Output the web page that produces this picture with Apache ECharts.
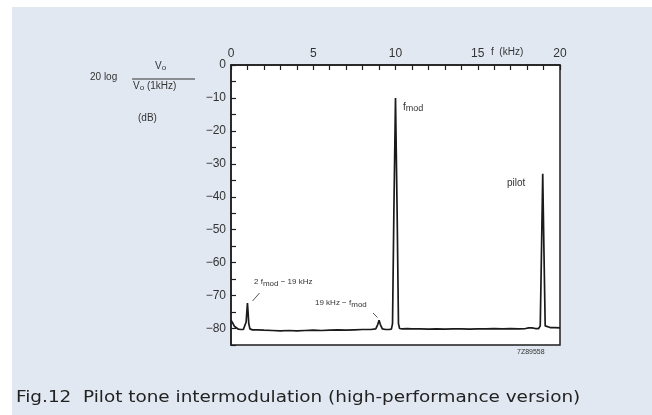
<!DOCTYPE html>
<html>
<head>
<meta charset="utf-8">
<script src="https://cdn.jsdelivr.net/npm/echarts@6/dist/echarts.min.js"></script>
<style>
html,body{margin:0;padding:0;background:#fff;}
#panel{position:absolute;left:12px;top:7px;right:0;bottom:0;background:#e1e8f2;}
#chart{position:absolute;left:0;top:0;width:652px;height:415px;}
</style>
</head>
<body>
<div id="panel"></div>
<div id="chart"></div>
<script>
// Frequency (kHz) and level (dB relative to 1 kHz output)
const freqKHz = [0, 0.1, 0.2, 0.3, 0.45, 0.6, 0.75, 0.85, 0.92, 0.97, 1.0, 1.03, 1.08, 1.15, 1.3, 1.6, 2.0, 2.5, 3.0, 3.5, 4.0, 4.5, 5.0, 5.5, 6.0, 6.5, 7.0, 7.5, 8.0, 8.5, 8.8, 8.92, 9.0, 9.08, 9.2, 9.4, 9.6, 9.75, 9.82, 9.9, 10.0, 10.1, 10.18, 10.25, 10.4, 10.7, 11.0, 11.5, 12.0, 12.5, 13.0, 13.5, 14.0, 14.5, 15.0, 15.5, 16.0, 16.5, 17.0, 17.5, 17.9, 18.1, 18.2, 18.3, 18.5, 18.7, 18.8, 18.88, 18.95, 19.02, 19.1, 19.2, 19.4, 19.7, 20];
const levelDB = [-77.5, -78.3, -79.3, -79.9, -80.2, -80.3, -80.3, -80.0, -78.0, -74.5, -72.3, -74.5, -78.5, -80.1, -80.4, -80.4, -80.5, -80.6, -80.7, -80.6, -80.7, -80.6, -80.5, -80.6, -80.5, -80.4, -80.5, -80.4, -80.3, -80.3, -80.1, -78.8, -77.5, -78.8, -80.1, -80.3, -80.3, -80.2, -78.5, -45, -10, -45, -78.5, -80.0, -80.1, -80.0, -80.1, -80.1, -80.2, -80.1, -80.2, -80.1, -80.1, -80.2, -80.1, -80.1, -80.0, -80.1, -80.0, -80.1, -80.0, -79.8, -79.5, -79.8, -80.0, -80.0, -79.2, -55, -33, -55, -79.2, -79.8, -79.7, -79.7, -79.8];
const xTickLabels = [0, 5, 10, 15, 20];
const yTickLabels = [0, -10, -20, -30, -40, -50, -60, -70, -80];

const seriesData = freqKHz.map((f, i) => [f, levelDB[i]]);
const txt = '#333';
const chart = echarts.init(document.getElementById('chart'), null, {renderer: 'canvas'});
chart.setOption({
  animation: false,
  backgroundColor: 'transparent',
  grid: {left: 231, top: 65, right: 92, bottom: 70, show: true, backgroundColor: '#fff', borderColor: '#1e1e1e', borderWidth: 1.5},
  xAxis: {
    type: 'value', position: 'top', min: 0, max: 20, interval: 1,
    axisLine: {show: true, lineStyle: {color: '#1e1e1e', width: 1.5}},
    axisTick: {show: true, inside: true, length: 5, lineStyle: {color: '#1e1e1e', width: 1.2}},
    splitLine: {show: false},
    axisLabel: {margin: 5, color: txt, fontSize: 12, fontFamily: 'Liberation Sans',
      formatter: v => xTickLabels.includes(v) ? String(v) : ''}
  },
  yAxis: {
    type: 'value', min: -85, max: 0, interval: 5,
    axisLine: {show: true, lineStyle: {color: '#1e1e1e', width: 1.5}},
    axisTick: {show: true, inside: true, length: 5, lineStyle: {color: '#1e1e1e', width: 1.2}},
    splitLine: {show: false},
    axisLabel: {margin: 5, color: txt, fontSize: 12, fontFamily: 'Liberation Sans',
      formatter: v => yTickLabels.includes(v) ? (v < 0 ? '\u2212' + Math.abs(v) : String(v)) : ''}
  },
  series: [{
    type: 'line', data: seriesData, showSymbol: false, symbol: 'none',
    lineStyle: {color: '#1a1a1a', width: 1.7}
  }],
  graphic: [
    {type: 'text', left: 491, top: 47, style: {text: 'f  (kHz)', fontSize: 10, fontFamily: 'Liberation Sans', fill: txt}},
    {type: 'text', left: 90, top: 72, style: {text: '20 log', fontSize: 10, fontFamily: 'Liberation Sans', fill: txt}},
    {type: 'text', left: 155, top: 61, style: {text: '{n|V}{s|o}', fontSize: 10, fontFamily: 'Liberation Sans', fill: txt,
      rich: {n: {fontSize: 10, fill: txt}, s: {fontSize: 8, fill: txt, verticalAlign: 'bottom', padding: [3, 0, 0, 0]}}}},
    {type: 'line', shape: {x1: 132, y1: 79, x2: 195, y2: 79}, style: {stroke: '#333', lineWidth: 1}},
    {type: 'text', left: 133, top: 81, style: {text: '{n|V}{s|o}{n| (1kHz)}', fontSize: 10, fontFamily: 'Liberation Sans', fill: txt,
      rich: {n: {fontSize: 10, fill: txt}, s: {fontSize: 8, fill: txt, verticalAlign: 'bottom', padding: [3, 0, 0, 0]}}}},
    {type: 'text', left: 138, top: 113, style: {text: '(dB)', fontSize: 10, fontFamily: 'Liberation Sans', fill: txt}},
    {type: 'text', left: 403, top: 102, style: {text: '{n|f}{s|mod}', fontFamily: 'Liberation Sans', fill: txt,
      rich: {n: {fontSize: 10, fill: txt}, s: {fontSize: 9, fill: txt, verticalAlign: 'bottom', padding: [3, 0, 0, 0]}}}},
    {type: 'text', left: 507, top: 178, style: {text: 'pilot', fontSize: 10, fontFamily: 'Liberation Sans', fill: txt}},
    {type: 'text', left: 254, top: 278, style: {text: '{n|2 f}{s|mod}{n| \u2212 19 kHz}', fontFamily: 'Liberation Sans', fill: txt,
      rich: {n: {fontSize: 8, fill: txt}, s: {fontSize: 8, fill: txt, verticalAlign: 'bottom', padding: [3, 0, 0, 0]}}}},
    {type: 'line', shape: {x1: 252.5, y1: 301, x2: 259.5, y2: 293}, style: {stroke: '#444', lineWidth: 0.9}},
    {type: 'text', left: 315, top: 299, style: {text: '{n|19 kHz \u2212 f}{s|mod}', fontFamily: 'Liberation Sans', fill: txt,
      rich: {n: {fontSize: 8, fill: txt}, s: {fontSize: 8, fill: txt, verticalAlign: 'bottom', padding: [3, 0, 0, 0]}}}},
    {type: 'line', shape: {x1: 373, y1: 313, x2: 377.5, y2: 317.5}, style: {stroke: '#444', lineWidth: 0.9}},
    {type: 'text', left: 517, top: 349, style: {text: '7Z89558', fontSize: 7, fontFamily: 'Liberation Sans', fill: txt}},
    {type: 'text', x: 16, y: 390, scaleX: 1.15, originX: 0, originY: 0,
      style: {text: 'Fig.12  Pilot tone intermodulation (high-performance version)', fontSize: 16, fontFamily: 'DejaVu Sans', fill: '#222'}}
  ]
});
</script>
</body>
</html>
